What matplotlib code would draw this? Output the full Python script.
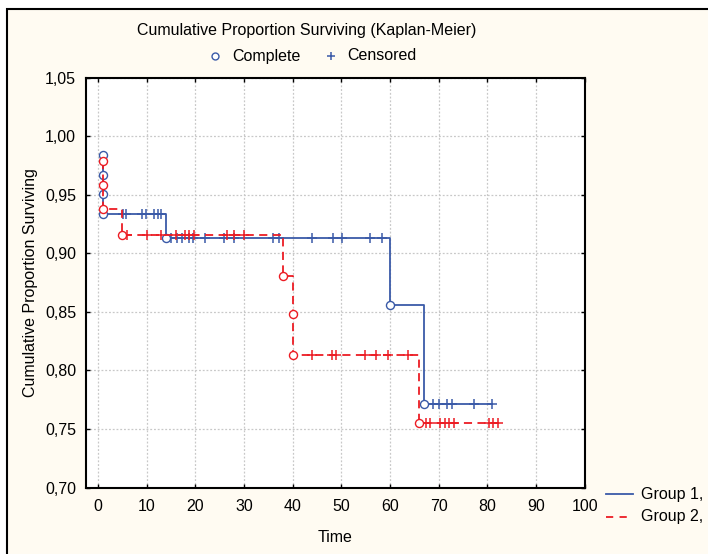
import numpy as np
import matplotlib
matplotlib.use("Agg")
import matplotlib.pyplot as plt
from matplotlib.lines import Line2D
from matplotlib.patches import Rectangle

plt.rcParams['font.family'] = ['Liberation Sans', 'DejaVu Sans']

# ---- data ----
g1_event_t = [1, 1, 1, 1, 14, 60, 67]
g1_event_s = [0.984, 0.967, 0.951, 0.934, 0.913, 0.856, 0.771]
g1_end_t = 81
g1_cens_t = [5.2, 5.8, 9, 9.8, 11.5, 12.3, 13, 15, 16.2, 17.2, 18.6, 19.6, 22,
             25.8, 28, 36, 37.2, 44, 48.2, 50.2, 55.8, 58.3, 68.8, 70, 71.8,
             72.8, 77.2, 81]

g2_event_t = [1, 1, 1, 5, 38, 40, 40, 66]
g2_event_s = [0.979, 0.958, 0.9375, 0.916, 0.881, 0.848, 0.813, 0.755]
g2_end_t = 82.1
g2_cens_t = [6, 10, 13, 16, 17.8, 18.8, 19.7, 26.6, 28, 30, 44, 48, 49, 54.8,
             57.1, 59.6, 63.7, 67.3, 68.2, 70.2, 71.2, 72.2, 73.2, 80.3, 81.2, 82.1]

x_ticks = [0, 10, 20, 30, 40, 50, 60, 70, 80, 90, 100]
y_ticks = [0.70, 0.75, 0.80, 0.85, 0.90, 0.95, 1.00, 1.05]
y_tick_labels = ["0,70", "0,75", "0,80", "0,85", "0,90", "0,95", "1,00", "1,05"]
group_labels = ["Group 1,", "Group 2,"]

BLUE = "#3a5aa8"
RED = "#ec1c24"
CREAM = "#fffbf2"
FS = 11.5

W, H = 708, 554
fig = plt.figure(figsize=(W / 100, H / 100), dpi=100, facecolor="white")
fig.patches.append(Rectangle((7 / W, -0.2), 1.5, 0.2 + (H - 9) / H, transform=fig.transFigure,
                             facecolor=CREAM, edgecolor="black", linewidth=1.5, zorder=-10))

ax = fig.add_axes([85.8 / W, 66.4 / H, (584.7 - 85.8) / W, (487.6 - 77.7) / H])
ax.set_facecolor("white")
ax.set_xlim(-2.5, 100)
ax.set_ylim(0.70, 1.05)
ax.set_xticks(x_ticks)
ax.set_xticklabels([str(v) for v in x_ticks])
ax.set_yticks(y_ticks)
ax.set_yticklabels(y_tick_labels)
ax.tick_params(direction="in", length=3, width=1, labelsize=FS, colors="black",
               top=True, right=True)
ax.tick_params(axis="x", pad=8)
ax.tick_params(axis="y", pad=7)
ax.grid(True, color="#c8c8c8", linestyle=(0, (1.5, 1.5)), linewidth=0.9)
ax.set_axisbelow(True)
for s in ax.spines.values():
    s.set_linewidth(1.5)


def draw_group(ev_t, ev_s, end_t, cens_t, color, ls, z):
    xs = list(ev_t) + [end_t]
    ys = list(ev_s) + [ev_s[-1]]
    ax.step(xs, ys, where="post", color=color, linestyle=ls, linewidth=1.3, zorder=z)
    ev_t_arr = np.array(ev_t)
    ev_s_arr = np.array(ev_s)
    idx = np.searchsorted(ev_t_arr, np.array(cens_t), side="right") - 1
    cy = ev_s_arr[idx]
    ax.plot(cens_t, cy, linestyle="none", marker="+", markersize=6.5,
            markeredgewidth=1.1, color=color, zorder=z + 1)
    ax.plot(ev_t, ev_s, linestyle="none", marker="o", markersize=5.8,
            markerfacecolor="white", markeredgecolor=color, markeredgewidth=1.0,
            zorder=z + 2)


draw_group(g1_event_t, g1_event_s, g1_end_t, g1_cens_t, BLUE, "-", 3)
draw_group(g2_event_t, g2_event_s, g2_end_t, g2_cens_t, RED, (0, (4.5, 3)), 6)

ax.set_xlabel("Time", fontsize=FS, labelpad=12)
ax.set_ylabel("Cumulative Proportion Surviving", fontsize=FS, labelpad=5)

# title and symbol legend
fig.text(307 / W, 1 - 31 / H, "Cumulative Proportion Surviving (Kaplan-Meier)",
         ha="center", va="center", fontsize=FS)
fig.add_artist(Line2D([215 / W], [1 - 56 / H], transform=fig.transFigure, marker="o",
                      markersize=5, markerfacecolor="white", markeredgecolor=BLUE,
                      linestyle="none"))
fig.text(232 / W, 1 - 56 / H, "Complete", ha="left", va="center", fontsize=FS)
fig.add_artist(Line2D([331 / W], [1 - 56 / H], transform=fig.transFigure, marker="+",
                      markersize=6, markeredgewidth=1.1, color=BLUE, linestyle="none"))
fig.text(347 / W, 1 - 56 / H, "Censored", ha="left", va="center", fontsize=FS)

# group legend
for i, (lab, col, ls) in enumerate(zip(group_labels, [BLUE, RED], ["-", (0, (4, 3.5))])):
    yy = 1 - (494 + 23 * i) / H
    fig.add_artist(Line2D([606 / W, 633 / W], [yy, yy], transform=fig.transFigure,
                          color=col, linestyle=ls, linewidth=1.3))
    fig.text(641 / W, yy, lab, ha="left", va="center", fontsize=FS)

fig.savefig("out.png", dpi=100, facecolor=fig.get_facecolor())
